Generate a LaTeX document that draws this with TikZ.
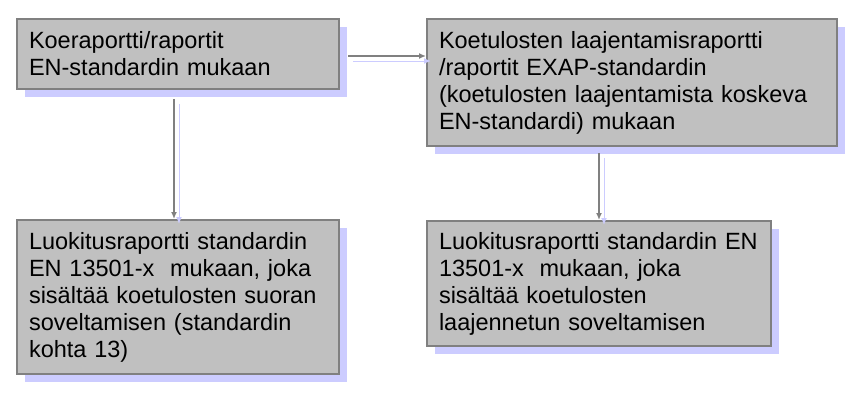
\documentclass[tikz,border=0pt]{standalone}
\usepackage{fontspec}
\setmainfont{Liberation Sans}
\usetikzlibrary{arrows.meta,shadows}
\definecolor{boxgray}{RGB}{192,192,192}
\definecolor{linegray}{RGB}{128,128,128}
\definecolor{shadowblue}{RGB}{204,204,255}

\begin{document}
\begin{tikzpicture}[x=1pt, y=1pt,
  report/.style={draw=linegray, line width=2pt, fill=boxgray, align=left, inner xsep=12pt,
    font=\fontsize{23.5}{27}\selectfont,
    drop shadow={shadow xshift=8pt, shadow yshift=-8pt, fill=shadowblue, opacity=1}},
  link/.style={draw=linegray, line width=2pt, -{Latex[length=7pt,width=6pt]},
    preaction={draw=shadowblue, transform canvas={shift={(5pt,-5pt)}}}}]
  \useasboundingbox (0,0) rectangle (858,413);

  \node[report, text width=298pt, minimum height=70pt] (testrep) at (178,359)
    {Koeraportti/raportit\\EN-standardin mukaan};
  \node[report, text width=386pt, minimum height=127pt] (exaprep) at (632,330.5)
    {Koetulosten laajentamisraportti\\/raportit EXAP-standardin\\(koetulosten laajentamista koskeva\\EN-standardi) mukaan};
  \node[report, text width=298pt, minimum height=154pt] (dirclass) at (178,116)
    {Luokitusraportti standardin\\EN 13501-x~ mukaan, joka\\sisältää koetulosten suoran\\soveltamisen (standardin\\kohta 13)};
  \node[report, text width=320pt, minimum height=125pt] (extclass) at (599,129.5)
    {Luokitusraportti standardin EN\\13501-x~ mukaan, joka\\sisältää koetulosten\\laajennetun soveltamisen};

  \draw[link] ([xshift=8pt,yshift=-2pt]testrep.east) -- ([yshift=-2pt]testrep.east -| exaprep.west);
  \draw[link] ([xshift=-4pt,yshift=-9pt]testrep.south) -- ([xshift=-4pt]testrep.south |- dirclass.north);
  \draw[link] ([yshift=-6pt]exaprep.south -| extclass.north) -- (extclass.north);
\end{tikzpicture}
\end{document}
